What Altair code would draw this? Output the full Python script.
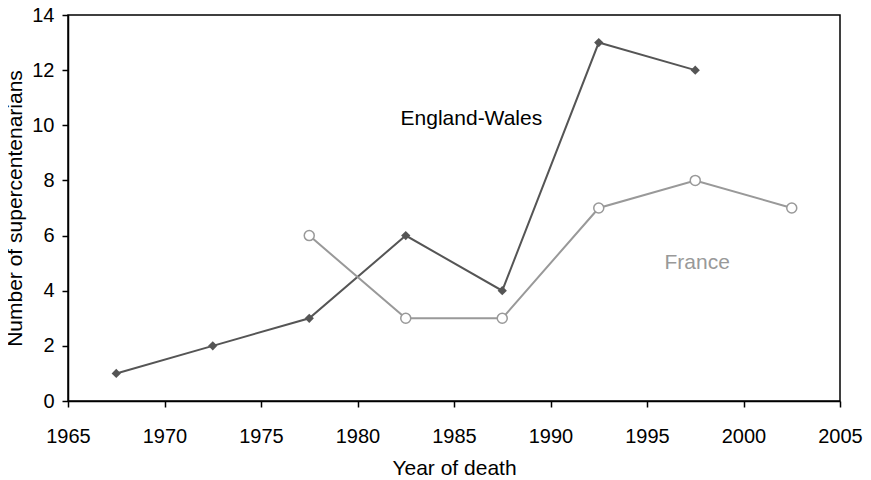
import altair as alt
import pandas as pd

# Data
ew_years = [1967.5, 1972.5, 1977.5, 1982.5, 1987.5, 1992.5, 1997.5]
ew_counts = [1, 2, 3, 6, 4, 13, 12]
fr_years = [1977.5, 1982.5, 1987.5, 1992.5, 1997.5, 2002.5]
fr_counts = [6, 3, 3, 7, 8, 7]
x_ticks = [1965, 1970, 1975, 1980, 1985, 1990, 1995, 2000, 2005]
y_ticks = [0, 2, 4, 6, 8, 10, 12, 14]
label_names = ["England-Wales", "France"]
label_x = [1985.9, 1997.6]
label_y = [10.0, 4.8]

FONT = "Liberation Sans"
EW_COLOR = "#555555"
FR_COLOR = "#999999"

ew = pd.DataFrame({"year": ew_years, "n": ew_counts})
fr = pd.DataFrame({"year": fr_years, "n": fr_counts})
labels = pd.DataFrame({"name": label_names, "year": label_x, "n": label_y})

xscale = alt.Scale(domain=[1965, 2005], nice=False, zero=False)
yscale = alt.Scale(domain=[0, 14], nice=False)

xenc = alt.X("year:Q", scale=xscale,
             axis=alt.Axis(values=x_ticks, format="d", title="Year of death",
                           labelPadding=19, titlePadding=11, labelFlush=False,
                           labelOverlap=False))
yenc = alt.Y("n:Q", scale=yscale,
             axis=alt.Axis(values=y_ticks, title="Number of supercentenarians",
                           labelPadding=8, titlePadding=6, labelFlush=False,
                           labelOverlap=False))

ew_line = alt.Chart(ew).mark_line(color=EW_COLOR, strokeWidth=2).encode(x=xenc, y=yenc)
ew_pts = alt.Chart(ew).mark_point(shape="diamond", filled=True, color=EW_COLOR,
                                  size=85, opacity=1).encode(x=xenc, y=yenc)
fr_line = alt.Chart(fr).mark_line(color=FR_COLOR, strokeWidth=2).encode(x=xenc, y=yenc)
fr_pts = alt.Chart(fr).mark_point(shape="circle", filled=True, fill="white",
                                  stroke=FR_COLOR, strokeWidth=1.5, size=100,
                                  opacity=1).encode(x=xenc, y=yenc)

text = alt.Chart(labels).mark_text(font=FONT, fontSize=21, baseline="alphabetic",
                                   align="center").encode(
    x=xenc, y=yenc, text="name:N",
    color=alt.Color("name:N", scale=alt.Scale(domain=label_names,
                                              range=["#000000", FR_COLOR]),
                    legend=None))

chart = alt.layer(ew_line, fr_line, ew_pts, fr_pts, text).properties(
    width=772, height=386,
    background="white",
    autosize=alt.AutoSizeParams(type="none"),
    padding={"left": 60, "top": 7, "right": 23, "bottom": 78},
).configure_view(stroke="black", strokeWidth=1.5).configure_axis(
    grid=False, domainColor="black", domainWidth=1.5, tickColor="black",
    tickWidth=1.5, tickSize=6, labelColor="black", titleColor="black",
    labelFont=FONT, titleFont=FONT, labelFontSize=20, titleFontSize=21,
    titleFontWeight="normal",
)

chart.save("out.html", embed_options={"renderer": "svg", "actions": False})
